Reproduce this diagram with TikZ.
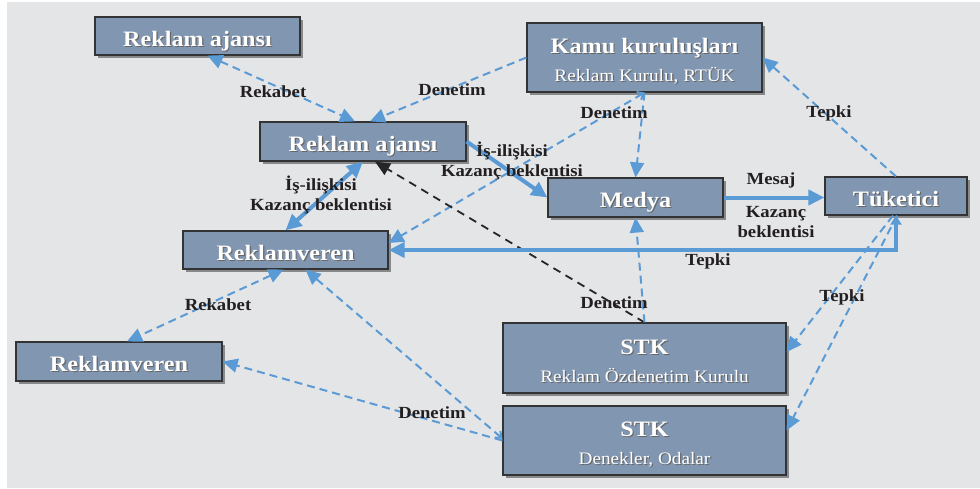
\documentclass[tikz,border=0pt]{standalone}
\usepackage{fontspec}
\setmainfont{Liberation Serif}[FakeStretch=1.1]
\usetikzlibrary{arrows.meta,shadows}

\definecolor{bgGray}{HTML}{E4E5E7}
\definecolor{boxFill}{HTML}{8196B1}
\definecolor{boxLine}{HTML}{333333}
\definecolor{arrowBlue}{HTML}{5B9BD5}
\definecolor{labelInk}{HTML}{231F20}

% white text with a small dark shadow
\newcommand{\shd}[1]{\rlap{\kern1.2pt\raisebox{-1.2pt}{\color{black!60}#1}}#1}
\newcommand{\boxtitle}[1]{{\fontsize{22}{24}\bfseries\selectfont\raisebox{0pt}[20pt][0pt]{\shd{#1}}}}
\newcommand{\boxsub}[1]{{\fontsize{17.5}{24}\selectfont\raisebox{0pt}[0pt][0pt]{\shd{#1}}}}

\begin{document}
\begin{tikzpicture}
    [x=1pt, y=-1pt,
    % Actor boxes
    box/.style={rectangle, draw=boxLine, fill=boxFill, line width=1.2pt, text=white, align=center, inner sep=0pt, font=\fontsize{17.5}{24}\selectfont, drop shadow={shadow xshift=3pt, shadow yshift=-3pt, opacity=0.4, fill=black}},
    % Labels on the connectors
    lbl/.style={text=labelInk, font=\fontsize{17}{20}\bfseries\selectfont, align=center, inner sep=0pt},
    % Thick relations
    flow/.style={draw=arrowBlue, line width=4pt},
    % Dashed relations
    link/.style={draw=arrowBlue, line width=2pt, dash pattern=on 8pt off 5pt},
    ctrl/.style={draw=black!85, line width=1.8pt, dash pattern=on 8pt off 6pt, -{Triangle[length=15pt,width=13pt]}},
    % Arrow tips
    toEnd/.style={-{Triangle[length=15pt,width=14pt]}},
    toBoth/.style={{Triangle[length=15pt,width=14pt]}-{Triangle[length=15pt,width=14pt]}},
    barbBoth/.style={{Straight Barb[length=5pt,width=9pt]}-{Triangle[length=15pt,width=14pt]}},
    bigEnd/.style={-{Triangle[length=16pt,width=15pt]}}]
    \fill[white] (0,0) rectangle (980,488);
    \fill[bgGray] (7,2) rectangle (980,488);
    \useasboundingbox (0,0) rectangle (980,488);

    % Upper row
    \node [box, minimum width=205pt, minimum height=38pt] (ajansTop) at (197.5,36) {\boxtitle{Reklam ajansı}};
    \node [box, minimum width=235pt, minimum height=69pt] (kamu) at (644.5,57.5) {\boxtitle{Kamu kuruluşları}\\[4pt]\boxsub{Reklam Kurulu, RTÜK}};
    \node [box, minimum width=206pt, minimum height=39pt] (ajans) at (363,141.5) {\boxtitle{Reklam ajansı}};
    % Middle row
    \node [box, minimum width=175pt, minimum height=39pt] (medya) at (635.5,197.5) {\boxtitle{Medya}};
    \node [box, minimum width=142pt, minimum height=38pt] (tuketici) at (896,196) {\boxtitle{Tüketici}};
    \node [box, minimum width=205pt, minimum height=38pt] (veren) at (285.5,250) {\boxtitle{Reklamveren}};
    % Lower row
    \node [box, minimum width=206pt, minimum height=39pt] (verenAlt) at (119,361.5) {\boxtitle{Reklamveren}};
    \node [box, minimum width=283pt, minimum height=70pt] (stkRoz) at (644.5,358) {\boxtitle{STK}\\[4pt]\boxsub{Reklam Özdenetim Kurulu}};
    \node [box, minimum width=283pt, minimum height=69pt] (stkDen) at (644.5,440.5) {\boxtitle{STK}\\[4pt]\boxsub{Denekler, Odalar}};

    % Connectors
    \draw[link, toBoth] ([xshift=10pt]ajansTop.south) -- ([xshift=-8pt]ajans.north);
    \draw[link, toEnd] (kamu.west) -- ([xshift=7pt]ajans.north);
    \draw[link, barbBoth] (kamu.south) -- ([yshift=7pt]veren.east);
    \draw[link, toEnd] (kamu.south) -- (medya.north);
    \draw[link, toEnd] (tuketici.north) -- (kamu.east);
    \draw[flow, bigEnd] (ajans.east) -- (medya.west);
    \draw[flow, {Triangle[length=16pt,width=15pt]}-{Triangle[length=16pt,width=15pt]}] (veren.north) -- (ajans.south);
    \draw[ctrl] (stkRoz.north) -- ([xshift=12pt]ajans.south);
    \draw[link, toEnd] (stkRoz.north) -- (medya.south);
    \draw[flow, bigEnd] (medya.east) -- (medya.east -| tuketici.west);
    \draw[flow, {Triangle[length=9pt,width=11pt]}-{Triangle[length=16pt,width=15pt]}] (tuketici.south) |- (veren.east);
    \draw[link, toEnd] ([xshift=-3pt]tuketici.south) -- ([yshift=6pt]stkRoz.east);
    \draw[link, toEnd] ([xshift=1pt]tuketici.south) -- ([yshift=10pt]stkDen.east);
    \draw[link, toBoth] ([xshift=-2pt]veren.south) -- ([xshift=8pt]verenAlt.north);
    \draw[link, barbBoth] ([yshift=2pt]stkDen.west) -- ([xshift=20pt]veren.south);
    \draw[link, toEnd] (stkDen.west) -- (verenAlt.east);

    % Labels
    \node [lbl, anchor=base] (lRekabetUst) at (273,97) {Rekabet};
    \node [lbl, anchor=base] (lDenetimUst) at (452,95) {Denetim};
    \node [lbl] (lIsSol) at (321,195) {İş-ilişkisi\\Kazanç beklentisi};
    \node [lbl] (lIsSag) at (512,161) {İş-ilişkisi\\Kazanç beklentisi};
    \node [lbl, anchor=base] (lDenetimKamu) at (614,118) {Denetim};
    \node [lbl, anchor=base] (lTepkiUst) at (829,117) {Tepki};
    \node [lbl, anchor=base] (lMesaj) at (771,184) {Mesaj};
    \node [lbl] (lKazanc) at (776,222) {Kazanç\\beklentisi};
    \node [lbl, anchor=base] (lTepkiAlt) at (708,265) {Tepki};
    \node [lbl, anchor=base] (lTepkiSag) at (842,301) {Tepki};
    \node [lbl, anchor=base] (lDenetimStk) at (614,308) {Denetim};
    \node [lbl, anchor=base] (lRekabetAlt) at (218,310) {Rekabet};
    \node [lbl, anchor=base] (lDenetimAlt) at (432,418) {Denetim};
\end{tikzpicture}
\end{document}
